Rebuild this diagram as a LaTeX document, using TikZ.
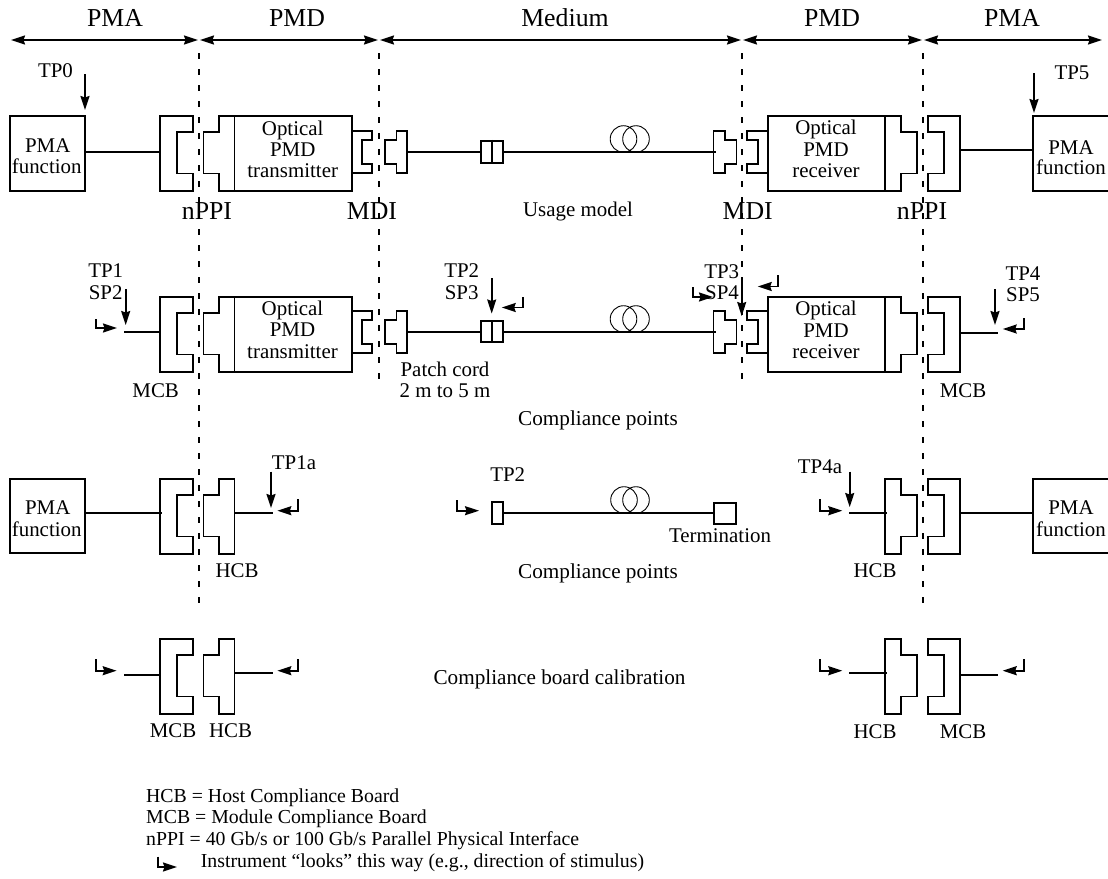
\documentclass[tikz,border=0pt]{standalone}
\usepackage{fontspec}
\setmainfont{Liberation Serif}
\usetikzlibrary{arrows.meta}
\tikzset{
  conn/.style={line width=1.75pt,line join=miter},
  tipped/.style={line width=1.75pt,-{Stealth[length=14pt,width=9pt,inset=1.5pt]}},
  both/.style={line width=1.75pt,{Stealth[length=14pt,width=9pt,inset=1.5pt]}-{Stealth[length=14pt,width=9pt,inset=1.5pt]}},
  bound/.style={line width=1.75pt,dash pattern=on 6pt off 10pt},
  lab/.style={anchor=base,yshift=-7pt,inner sep=0pt,font=\fontsize{20.9}{21}\selectfont},
  wide/.style={anchor=base,yshift=-7pt,inner sep=0pt,font=\fontsize{21.2}{21}\selectfont},
  big/.style={anchor=base,yshift=-8.5pt,inner sep=0pt,font=\fontsize{25.8}{26}\selectfont},
  leg/.style={anchor=base west,inner sep=0pt,font=\fontsize{19.8}{21}\selectfont},
  boxn/.style={draw,line width=1.75pt,inner sep=0pt},
  coil/.style={line width=0.9pt}
}
% named link between two named coordinates
\newcommand\lnk[4][conn]{\coordinate (#2a) at (#3);\coordinate (#2b) at (#4);\draw[#1] (#2a) -- (#2b);}
% instrument direction marks
\newcommand\look[5]{\coordinate (#1a) at (#2,#3);\coordinate (#1b) at (#2,#4);\coordinate (#1c) at (#5,#4);\draw[tipped] (#1a) -- (#1b) -- (#1c);}
% fibre coil
\newcommand\fcoil[1]{\draw[coil] (623.5,#1) circle (13.3pt) (636,#1) circle (13.3pt);}
% connector bodies, #1 = top y
\newcommand\mcbl[1]{\draw[conn,shift={(0,#1)}] (193.3,0)--(160,0)--(160,75)--(193.3,75)--(193.3,57.5)--(176.7,57.5)--(176.7,16.3)--(193.3,16.3)--cycle;}
\newcommand\mcbr[1]{\draw[conn,shift={(0,#1)}] (927.7,0)--(960,0)--(960,75)--(927.7,75)--(927.7,57.5)--(944.3,57.5)--(944.3,16.3)--(927.7,16.3)--cycle;}
\newcommand\hcbl[1]{\draw[conn,shift={(0,#1)}] (218.8,0)--(234.5,0)--(234.5,75)--(218.8,75)--(218.8,57.5)--(203.5,57.5)--(203.5,16.3)--(218.8,16.3)--cycle;}
\newcommand\hcbr[1]{\draw[conn,shift={(0,#1)}] (885,0)--(901,0)--(901,16.3)--(917.3,16.3)--(917.3,57.5)--(901,57.5)--(901,75)--(885,75)--cycle;}
% MDI parts, #1 = top y
\newcommand\mditx[1]{\draw[conn,shift={(0,#1)}] (352.3,0)--(372,0)--(372,9.3)--(361.8,9.3)--(361.8,33)--(372,33)--(372,42)--(352.3,42);}
\newcommand\mdipl[1]{\draw[conn,shift={(0,#1)}] (396.5,0)--(407.3,0)--(407.3,42)--(396.5,42)--(396.5,33)--(385,33)--(385,9.3)--(396.5,9.3)--cycle;}
\newcommand\mdipr[1]{\draw[conn,shift={(0,#1)}] (713.6,0)--(725,0)--(725,9.3)--(736.5,9.3)--(736.5,33)--(725,33)--(725,42)--(713.6,42)--cycle;}
\newcommand\mdirx[1]{\draw[conn,shift={(0,#1)}] (767.7,0)--(747,0)--(747,9.3)--(757.7,9.3)--(757.7,33)--(747,33)--(747,42)--(767.7,42);}
\begin{document}
\begin{tikzpicture}[x=1pt,y=-1pt]
\useasboundingbox (0,0) rectangle (1108,878);
% headers
\node[big] (h1) at (115,18) {PMA};
\node[big] (h2) at (297,18) {PMD};
\node[big] (h3) at (565,18) {Medium};
\node[big] (h4) at (832,18) {PMD};
\node[big] (h5) at (1012,18) {PMA};
\lnk[both]{s1}{11,40}{198,40}
\lnk[both]{s2}{200,40}{378,40}
\lnk[both]{s3}{380,40}{741,40}
\lnk[both]{s4}{743,40}{922,40}
\lnk[both]{s5}{924,40}{1102,40}
% boundaries
\lnk[bound]{d1}{199,53}{199,606}
\lnk[bound]{d2}{379,53}{379,381}
\lnk[bound]{d3}{741.8,53}{741.8,380}
\lnk[bound]{d4}{922.8,53}{922.8,606}
% row 1
\node[boxn,minimum width=75.3pt,minimum height=75pt] (pma1) at (47.7,153.3) {};
\node[lab] (pma1a) at (47.7,145.5) {PMA};
\node[lab] (pma1b) at (46.7,166.5) {function};
\lnk{r1a}{85.3,152}{160,152}
\mcbl{116}
\hcbl{116}
\node[boxn,minimum width=117.8pt,minimum height=75pt] (tx1) at (293.4,153.5) {};
\node[lab] (tx1a) at (292.7,128) {Optical};
\node[lab] (tx1b) at (292.7,149.5) {PMD};
\node[lab] (tx1c) at (292.7,170.5) {transmitter};
\mditx{131}
\mdipl{131}
\lnk{r1b}{407.3,152}{481,152}
\node[boxn,minimum width=22.3pt,minimum height=22.6pt] (cc1) at (492.1,152) {};
\draw[conn] (cc1.north) -- (cc1.south);
\lnk{r1c}{503.3,152}{716,152}
\fcoil{139}
\mdipr{131}
\mdirx{131}
\node[boxn,minimum width=117.3pt,minimum height=75pt] (rx1) at (826.3,153.5) {};
\node[lab] (rx1a) at (826,127) {Optical};
\node[lab] (rx1b) at (826,149) {PMD};
\node[lab] (rx1c) at (826,170) {receiver};
\hcbr{116}
\mcbr{116}
\lnk{r1d}{960,150}{1033.3,150}
\coordinate (pb1) at (1108,116);\coordinate (pb2) at (1033.3,116);\coordinate (pb3) at (1033.3,191);\coordinate (pb4) at (1108,191);
\draw[conn] (pb1) -- (pb2) -- (pb3) -- (pb4);
\node[lab] (pma2a) at (1071,147) {PMA};
\node[lab] (pma2b) at (1071,167) {function};
\node[lab] (tp0) at (55.5,70) {TP0};
\lnk[tipped]{a0}{85,74}{85,110}
\node[lab] (tp5) at (1072,72) {TP5};
\lnk[tipped]{a5}{1034,73}{1034,113}
\node[big] (n1) at (207,211) {nPPI};
\node[big] (m1) at (372,211) {MDI};
\node[big] (m2) at (747.7,210.5) {MDI};
\node[big] (n2) at (922,210.5) {nPPI};
\node[lab] (um) at (578,209) {Usage model};
% row 2
\node[lab] (tp1) at (105.7,270) {TP1};
\node[lab] (sp2) at (105.7,292.5) {SP2};
\lnk[tipped]{a1}{125.7,289}{125.7,325}
\look{l1}{95.7}{319}{328}{117}
\lnk{r2a}{124.3,332.2}{160,332.2}
\mcbl{297}
\hcbl{297}
\node[boxn,minimum width=117.8pt,minimum height=75pt] (tx2) at (293.4,334.3) {};
\node[lab] (tx2a) at (292.5,308) {Optical};
\node[lab] (tx2b) at (292.5,329.5) {PMD};
\node[lab] (tx2c) at (292.5,351.5) {transmitter};
\mditx{311}
\mdipl{311}
\lnk{r2b}{407.3,332}{481,332}
\node[boxn,minimum width=22.3pt,minimum height=21pt] (cc2) at (492.1,331.5) {};
\draw[conn] (cc2.north) -- (cc2.south);
\lnk{r2c}{503.3,332}{716,332}
\fcoil{319}
\mdipr{311}
\mdirx{311}
\node[boxn,minimum width=117.3pt,minimum height=75pt] (rx2) at (826.3,334.3) {};
\node[lab] (rx2a) at (826,308.5) {Optical};
\node[lab] (rx2b) at (826,330) {PMD};
\node[lab] (rx2c) at (826,351.5) {receiver};
\hcbr{297}
\mcbr{297}
\lnk{r2d}{960,332.7}{997.5,332.7}
\node[lab] (tp2) at (461.7,270) {TP2};
\node[lab] (sp3) at (461.7,292.5) {SP3};
\lnk[tipped]{a2}{491.7,278}{491.7,313.5}
\look{l2}{522.7}{297}{307.5}{501.7}
\node[lab] (tp3) at (721.7,271.5) {TP3};
\node[lab] (sp4) at (722,292.5) {SP4};
\look{l3}{692.7}{287}{297}{713}
\lnk[tipped]{a3}{741.7,278}{741.7,316}
\look{l4}{778.3}{275}{286.5}{757.7}
\node[lab] (tp4) at (1023,273) {TP4};
\node[lab] (sp5) at (1023,294) {SP5};
\lnk[tipped]{a4}{995,289}{995,325}
\look{l5}{1024}{318}{329}{1002.7}
\node[lab] (mcb1) at (155.7,390) {MCB};
\node[lab] (mcb2) at (963,390) {MCB};
\node[lab] (pc1) at (445,369) {Patch cord};
\node[lab] (pc2) at (445,390.5) {2 m to 5 m};
\node[wide] (cp1) at (598,418.5) {Compliance points};
% row 3
\node[boxn,minimum width=75.3pt,minimum height=74pt] (pma3) at (47.7,516) {};
\node[lab] (pma3a) at (47.7,507.5) {PMA};
\node[lab] (pma3b) at (46.7,529) {function};
\lnk{r3a}{85.3,512.7}{162,512.7}
\mcbl{479}
\hcbl{479}
\lnk{r3b}{234.5,512.7}{273.3,512.7}
\lnk[tipped]{a6}{271,471.7}{271,508}
\node[lab] (tp1a) at (294,462.5) {TP1a};
\look{l6}{298.3}{499}{510.7}{277.3}
\node[lab] (hcb1) at (237,570.7) {HCB};
\look{l7}{457.3}{500}{510.7}{479}
\node[boxn,minimum width=11.6pt,minimum height=22.6pt] (cc3) at (497.5,513) {};
\lnk{r3c}{503.3,512.7}{714,512.7}
\draw[coil] (624,500) circle (13.3pt) (636,500) circle (13.3pt);
\node[boxn,minimum width=22pt,minimum height=21.6pt] (term) at (725,513.5) {};
\node[lab] (tp2b) at (507.7,474.5) {TP2};
\node[lab] (termt) at (720,535) {Termination};
\node[wide] (cp2) at (598,571.7) {Compliance points};
\node[lab] (tp4a) at (820,466.7) {TP4a};
\lnk[tipped]{a7}{849.7,471.7}{849.7,507}
\look{l8}{820}{499}{510.7}{842.3}
\lnk{r3d}{849,512.7}{886.7,512.7}
\hcbr{479}
\mcbr{479}
\lnk{r3e}{960,512.7}{1033.3,512.7}
\coordinate (pc3) at (1108,479);\coordinate (pc4) at (1033.3,479);\coordinate (pc5) at (1033.3,553);\coordinate (pc6) at (1108,553);
\draw[conn] (pc3) -- (pc4) -- (pc5) -- (pc6);
\node[lab] (pma4a) at (1071,507.5) {PMA};
\node[lab] (pma4b) at (1071,529) {function};
\node[lab] (hcb2) at (875,570.7) {HCB};
% row 4
\look{l9}{95.7}{659}{670.7}{116.7}
\lnk{r4a}{124,675}{160,675}
\mcbl{639}
\hcbl{639}
\lnk{r4b}{234.5,673}{273.3,673}
\look{l10}{298.3}{659}{670.7}{277.3}
\node[lab] (mcb3) at (173,730.7) {MCB};
\node[lab] (hcb3) at (230.5,730.7) {HCB};
\node[wide] (cbc) at (559.5,677.5) {Compliance board calibration};
\look{l11}{820}{659}{670.7}{842.3}
\lnk{r4c}{849,673}{886.7,673}
\hcbr{639}
\mcbr{639}
\lnk{r4d}{960,675}{997.7,675}
\look{l12}{1024.3}{659}{670.7}{1002.7}
\node[lab] (hcb4) at (875,731.5) {HCB};
\node[lab] (mcb4) at (963,731.5) {MCB};
% legend
\node[leg] (k1) at (146,802) {HCB = Host Compliance Board};
\node[leg] (k2) at (146,823.5) {MCB = Module Compliance Board};
\node[leg] (k3) at (146,845) {nPPI = 40 Gb/s or 100 Gb/s Parallel Physical Interface};
\node[leg] (k4) at (200.7,867) {Instrument “looks” this way (e.g., direction of stimulus)};
\look{l13}{158.3}{856.7}{867}{177}
\end{tikzpicture}
\end{document}
